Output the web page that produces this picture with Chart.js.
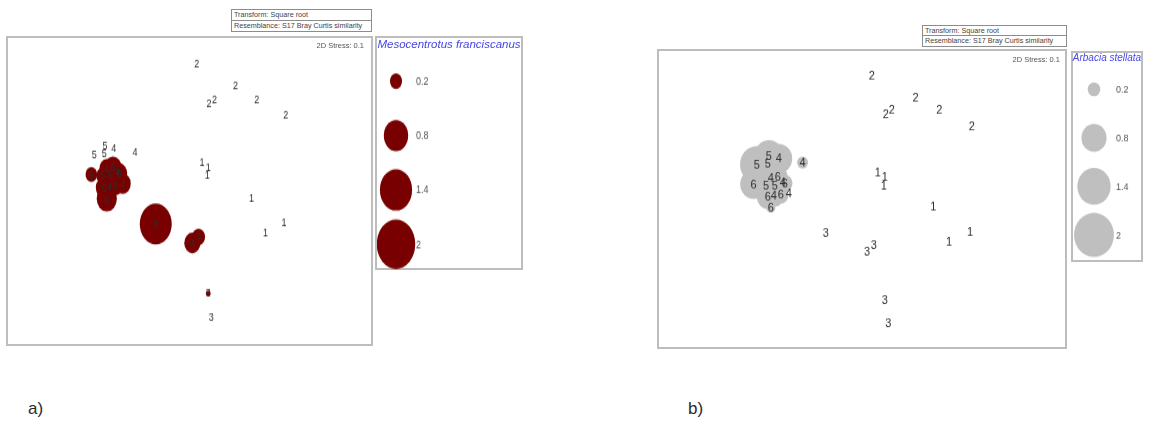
<!DOCTYPE html>
<html><head><meta charset="utf-8">
<script src="https://cdn.jsdelivr.net/npm/chart.js@4.4.1/dist/chart.umd.min.js"></script>
<style>
html,body{margin:0;padding:0;background:#fff;width:1158px;height:423px;overflow:hidden;font-family:"Liberation Sans",Arial,sans-serif;}
.box{position:absolute;box-sizing:border-box;border:2px solid #bdbdbd;background:#fff;}
.stretch{position:absolute;transform-origin:0 0;}
.hdr{position:absolute;box-sizing:border-box;border:1px solid #8c8c8c;background:#fff;font-size:7.2px;color:#444;line-height:1;}
.hdr div{height:50%;box-sizing:border-box;padding-left:2px;display:flex;align-items:center;white-space:nowrap;}
.hdr div:first-child{border-bottom:1px solid #8c8c8c;}
.stress{position:absolute;font-size:7.5px;color:#555;white-space:nowrap;}
.ltitle{position:absolute;font-style:italic;color:#4646e6;white-space:nowrap;text-align:center;}
.panel{position:absolute;font-size:17px;color:#2a2a2a;}
</style></head>
<body>
<script>
// ---- DATA ----
const siteLabels = ["1","1","1","1","1","1","2","2","2","2","2","2","3","3","3","3","3","4","4","4","4","4","4","5","5","5","5","5","6","6","6","6","6","6"];
const mdsX = [0.18,0.25,0.24,0.74,1.11,0.90,
              0.12,0.56,0.26,0.32,0.80,1.13,
              -0.345,0.07,0.14,0.25,0.285,
              -0.82,-0.58,-0.90,-0.78,-0.87,-0.72,
              -1.043,-0.92,-0.93,-0.95,-0.86,
              -1.075,-0.83,-0.76,-0.93,-0.80,-0.90];
const mdsY = [0.28,0.23,0.15,-0.07,-0.32,-0.42,
              1.26,1.04,0.87,0.91,0.91,0.75,
              -0.33,-0.52,-0.46,-1.02,-1.25,
              0.42,0.38,0.22,0.18,0.04,0.07,
              0.36,0.45,0.37,0.15,0.15,
              0.16,0.23,0.17,0.03,0.05,-0.08];
const mesocentrotus = [0,0,0,0,0,0,
                       0,0,0,0,0,0,
                       1.38,0.35,0.23,0.03,0,
                       0,0,0.3,0.3,0.4,0.35,
                       0,0,0,0.2,0.3,
                       0.18,0.4,0.35,0.38,0.3,0.55];
const arbacia = [0,0,0,0,0,0,
                 0,0,0,0,0,0,
                 0,0,0,0,0,
                 0.9,0.15,0.5,0.3,0.5,0,
                 1.4,1.0,1.0,0.6,0.4,
                 0.9,0.5,0.3,0.6,0.3,0.1];
const legendValues = [0.2,0.8,1.4,2];
const legendLabels = ["0.2","0.8","1.4","2"];
const speciesA = "Mesocentrotus franciscanus";
const speciesB = "Arbacia stellata";
const headerLines = ["Transform: Square root","Resemblance: S17 Bray Curtis similarity"];
const stressText = "2D Stress: 0.1";

// ---- LAYOUT ----
const panels = [
  {name:"a)", nameX:28, values:mesocentrotus, species:speciesA, color:"#780000", s:1.28, k:13.6, font:9,
   plot:{left:6,top:36,w:367,h:310}, xr:[-2.02,2.095], yr:[-1.523,1.515],
   legend:{left:375,top:36,w:148,h:234, cx:396, ctop:54, ch:216, titleSize:11.5, titleTop:38, labSize:9},
   hdr:{left:231,top:9,w:141,h:23}, stressRight:7, stressTop:39},
  {name:"b)", nameX:688, values:arbacia, species:speciesB, color:"#bfbfbf", s:1.1, k:14.1, font:11,
   plot:{left:657,top:49,w:410,h:300}, xr:[-2.03,2.07], yr:[-1.49,1.51],
   legend:{left:1071,top:51,w:72,h:211, cx:1094, ctop:65, ch:193, titleSize:10, titleTop:52, labSize:9},
   hdr:{left:922,top:25,w:145,h:22}, stressRight:5, stressTop:53}
];

const labelPlugin = {
  id:'ptLabels',
  afterDatasetsDraw(chart, args, o){
    if(!o || !o.labels) return;
    const ctx = chart.ctx, meta = chart.getDatasetMeta(0);
    ctx.save();
    ctx.font = o.font; ctx.fillStyle = o.color;
    ctx.textAlign = o.legend ? 'left' : 'center'; ctx.textBaseline = 'middle';
    meta.data.forEach((el,i)=>{
      const x = o.legend ? chart.chartArea.right + 1 : el.x;
      ctx.fillText(o.labels[i], x, el.y + 0.5);
    });
    ctx.restore();
  }
};

function el(tag, cls, style, parent){
  const e = document.createElement(tag);
  if(cls) e.className = cls;
  Object.assign(e.style, style||{});
  (parent||document.body).appendChild(e);
  return e;
}

panels.forEach(p=>{
  // plot box
  const box = el('div','box',{left:p.plot.left+'px',top:p.plot.top+'px',width:p.plot.w+'px',height:p.plot.h+'px'});
  const iw = p.plot.w-4, ih = p.plot.h-4;
  const st = el('div','stretch',{left:'0px',top:'0px',width:iw+'px',height:(ih/p.s)+'px',transform:`scaleY(${p.s})`},box);
  const cv = el('canvas',null,{},st);
  const pts = mdsX.map((x,i)=>({x:x,y:mdsY[i],r:p.k*Math.sqrt(p.values[i])}));
  new Chart(cv,{
    type:'bubble',
    data:{datasets:[{data:pts,backgroundColor:p.color,borderWidth:0,hoverBorderWidth:0,clip:false}]},
    options:{responsive:true,maintainAspectRatio:false,animation:false,events:[],
      layout:{padding:0,autoPadding:false},
      plugins:{legend:{display:false},tooltip:{enabled:false},
        ptLabels:{labels:siteLabels,font:`${p.font}px "Liberation Sans", Arial, sans-serif`,color:'#2e2e2e'}},
      scales:{x:{type:'linear',min:p.xr[0],max:p.xr[1],display:false},
              y:{type:'linear',min:p.yr[0],max:p.yr[1],display:false}}},
    plugins:[labelPlugin]
  });
  const sd = el('div','stress',{right:p.stressRight+'px',top:(p.stressTop-p.plot.top)+'px'},box);
  sd.textContent = stressText;

  // header
  const h = el('div','hdr',{left:p.hdr.left+'px',top:p.hdr.top+'px',width:p.hdr.w+'px',height:p.hdr.h+'px'});
  headerLines.forEach(t=>{ const d=el('div',null,{},h); d.textContent=t; });

  // legend box
  const L = p.legend;
  el('div','box',{left:L.left+'px',top:L.top+'px',width:L.w+'px',height:L.h+'px'});
  const tt = el('div','ltitle',{left:L.left+'px',top:L.titleTop+'px',width:L.w+'px',fontSize:L.titleSize+'px'});
  tt.textContent = p.species;
  const lw = L.w-4;
  const lst = el('div','stretch',{left:(L.left+2)+'px',top:L.ctop+'px',width:lw+'px',height:(L.ch/p.s)+'px',transform:`scaleY(${p.s})`});
  const lcv = el('canvas',null,{},lst);
  const chartW = 2*(L.cx-(L.left+2));
  new Chart(lcv,{
    type:'bubble',
    data:{datasets:[{data:legendValues.map((v,i)=>({x:0,y:i,r:p.k*Math.sqrt(v)})),backgroundColor:p.color,borderWidth:0,clip:false}]},
    options:{responsive:true,maintainAspectRatio:false,animation:false,events:[],
      layout:{padding:{left:0,top:0,bottom:0,right:lw-chartW},autoPadding:false},
      plugins:{legend:{display:false},tooltip:{enabled:false},
        ptLabels:{labels:legendLabels,legend:true,font:`${L.labSize}px "Liberation Sans", Arial, sans-serif`,color:'#555'}},
      scales:{x:{type:'linear',min:-1,max:1,display:false},
              y:{type:'linear',min:-0.5,max:legendValues.length-0.5,reverse:true,display:false}}},
    plugins:[labelPlugin]
  });

  const nm = el('div','panel',{left:p.nameX+'px',top:'399px'});
  nm.textContent = p.name;
});
</script>
</body></html>
